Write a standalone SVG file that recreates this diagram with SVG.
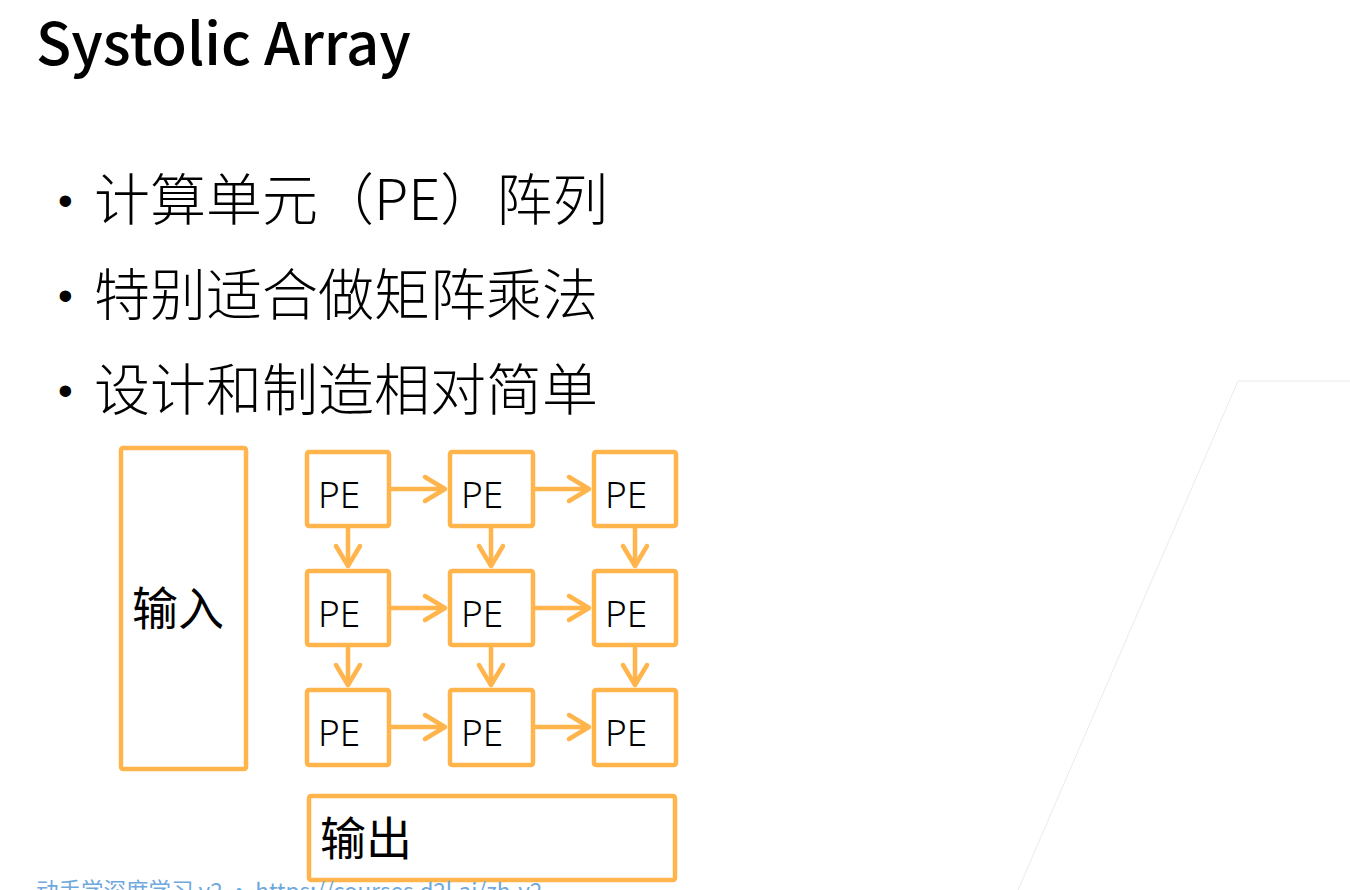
<svg xmlns="http://www.w3.org/2000/svg" width="1350" height="890" viewBox="0 0 1350 890">
  <style>
    .t { font-family: "Noto Sans CJK SC", "Noto Sans", sans-serif; fill: #000; }
    .title { font-size: 58px; font-weight: 500; }
    .bullet { font-size: 56px; font-weight: 300; }
    .dot { font-family: "Liberation Sans", sans-serif; font-size: 42px; fill: #000; }
    .box { fill: #fff; stroke: #FFB44C; stroke-width: 4.5; }
    .pe { font-family: "Noto Sans", "Noto Sans CJK SC", sans-serif; font-size: 37px; font-weight: 300; fill: #000; }
    .io { font-size: 46px; font-weight: 400; }
    .link { stroke: #FFB44C; stroke-width: 4.5; fill: none; marker-end: url(#chev); }
    .foot { font-family: "Noto Sans CJK SC", "Noto Sans", sans-serif; font-size: 22.5px; fill: #6FA8DC; }
  </style>
  <defs>
    <marker id="chev" markerUnits="userSpaceOnUse" viewBox="-26 -16 30 32" markerWidth="30" markerHeight="32" refX="0" refY="0" orient="auto" overflow="visible">
      <path d="M-20,-12 L0,0 L-20,12" fill="none" stroke="#FFB44C" stroke-width="4.5" stroke-linecap="round" stroke-linejoin="round"/>
    </marker>
  </defs>

  <rect width="1350" height="890" fill="#fff"/>

  <!-- slide decoration -->
  <path d="M1350,381 L1238,381 L1018,890" fill="none" stroke="#ebebeb" stroke-width="1"/>

  <text class="t title" x="36" y="65">Systolic Array</text>

  <g id="bullets">
    <text class="dot" x="58" y="215">•</text>
    <text class="t bullet" x="94" y="220">计算单元（PE）阵列</text>
    <text class="dot" x="58" y="310">•</text>
    <text class="t bullet" x="94" y="315">特别适合做矩阵乘法</text>
    <text class="dot" x="58" y="405">•</text>
    <text class="t bullet" x="94" y="410">设计和制造相对简单</text>
  </g>

  <g id="input">
    <rect class="box" x="121" y="448" width="125" height="321" rx="2"/>
    <text class="t io" x="132" y="625">输入</text>
  </g>

  <g id="pe11"><rect class="box" x="307" y="452" width="82" height="74" rx="2"/><text class="pe" x="318" y="508">PE</text></g>
  <g id="pe12"><rect class="box" x="450" y="452" width="83" height="74" rx="2"/><text class="pe" x="461" y="508">PE</text></g>
  <g id="pe13"><rect class="box" x="594" y="452" width="82" height="74" rx="2"/><text class="pe" x="605" y="508">PE</text></g>
  <g id="pe21"><rect class="box" x="307" y="571" width="82" height="74" rx="2"/><text class="pe" x="318" y="627">PE</text></g>
  <g id="pe22"><rect class="box" x="450" y="571" width="83" height="74" rx="2"/><text class="pe" x="461" y="627">PE</text></g>
  <g id="pe23"><rect class="box" x="594" y="571" width="82" height="74" rx="2"/><text class="pe" x="605" y="627">PE</text></g>
  <g id="pe31"><rect class="box" x="307" y="690" width="82" height="75" rx="2"/><text class="pe" x="318" y="746">PE</text></g>
  <g id="pe32"><rect class="box" x="450" y="690" width="83" height="75" rx="2"/><text class="pe" x="461" y="746">PE</text></g>
  <g id="pe33"><rect class="box" x="594" y="690" width="82" height="75" rx="2"/><text class="pe" x="605" y="746">PE</text></g>

  <g id="output">
    <rect class="box" x="309" y="796" width="366" height="84" rx="2"/>
    <text class="t io" x="320" y="855">输出</text>
  </g>

  <g id="connectors">
    <!-- horizontal flow -->
    <line class="link" x1="391" y1="489" x2="445" y2="489"/>
    <line class="link" x1="535" y1="489" x2="589" y2="489"/>
    <line class="link" x1="391" y1="608" x2="445" y2="608"/>
    <line class="link" x1="535" y1="608" x2="589" y2="608"/>
    <line class="link" x1="391" y1="727" x2="445" y2="727"/>
    <line class="link" x1="535" y1="727" x2="589" y2="727"/>
    <!-- vertical flow -->
    <line class="link" x1="348" y1="528" x2="348" y2="566"/>
    <line class="link" x1="491" y1="528" x2="491" y2="566"/>
    <line class="link" x1="635" y1="528" x2="635" y2="566"/>
    <line class="link" x1="348" y1="647" x2="348" y2="685"/>
    <line class="link" x1="491" y1="647" x2="491" y2="685"/>
    <line class="link" x1="635" y1="647" x2="635" y2="685"/>
  </g>

  <text class="foot" x="36" y="899">动手学深度学习 v2 · https://courses.d2l.ai/zh-v2</text>
</svg>
